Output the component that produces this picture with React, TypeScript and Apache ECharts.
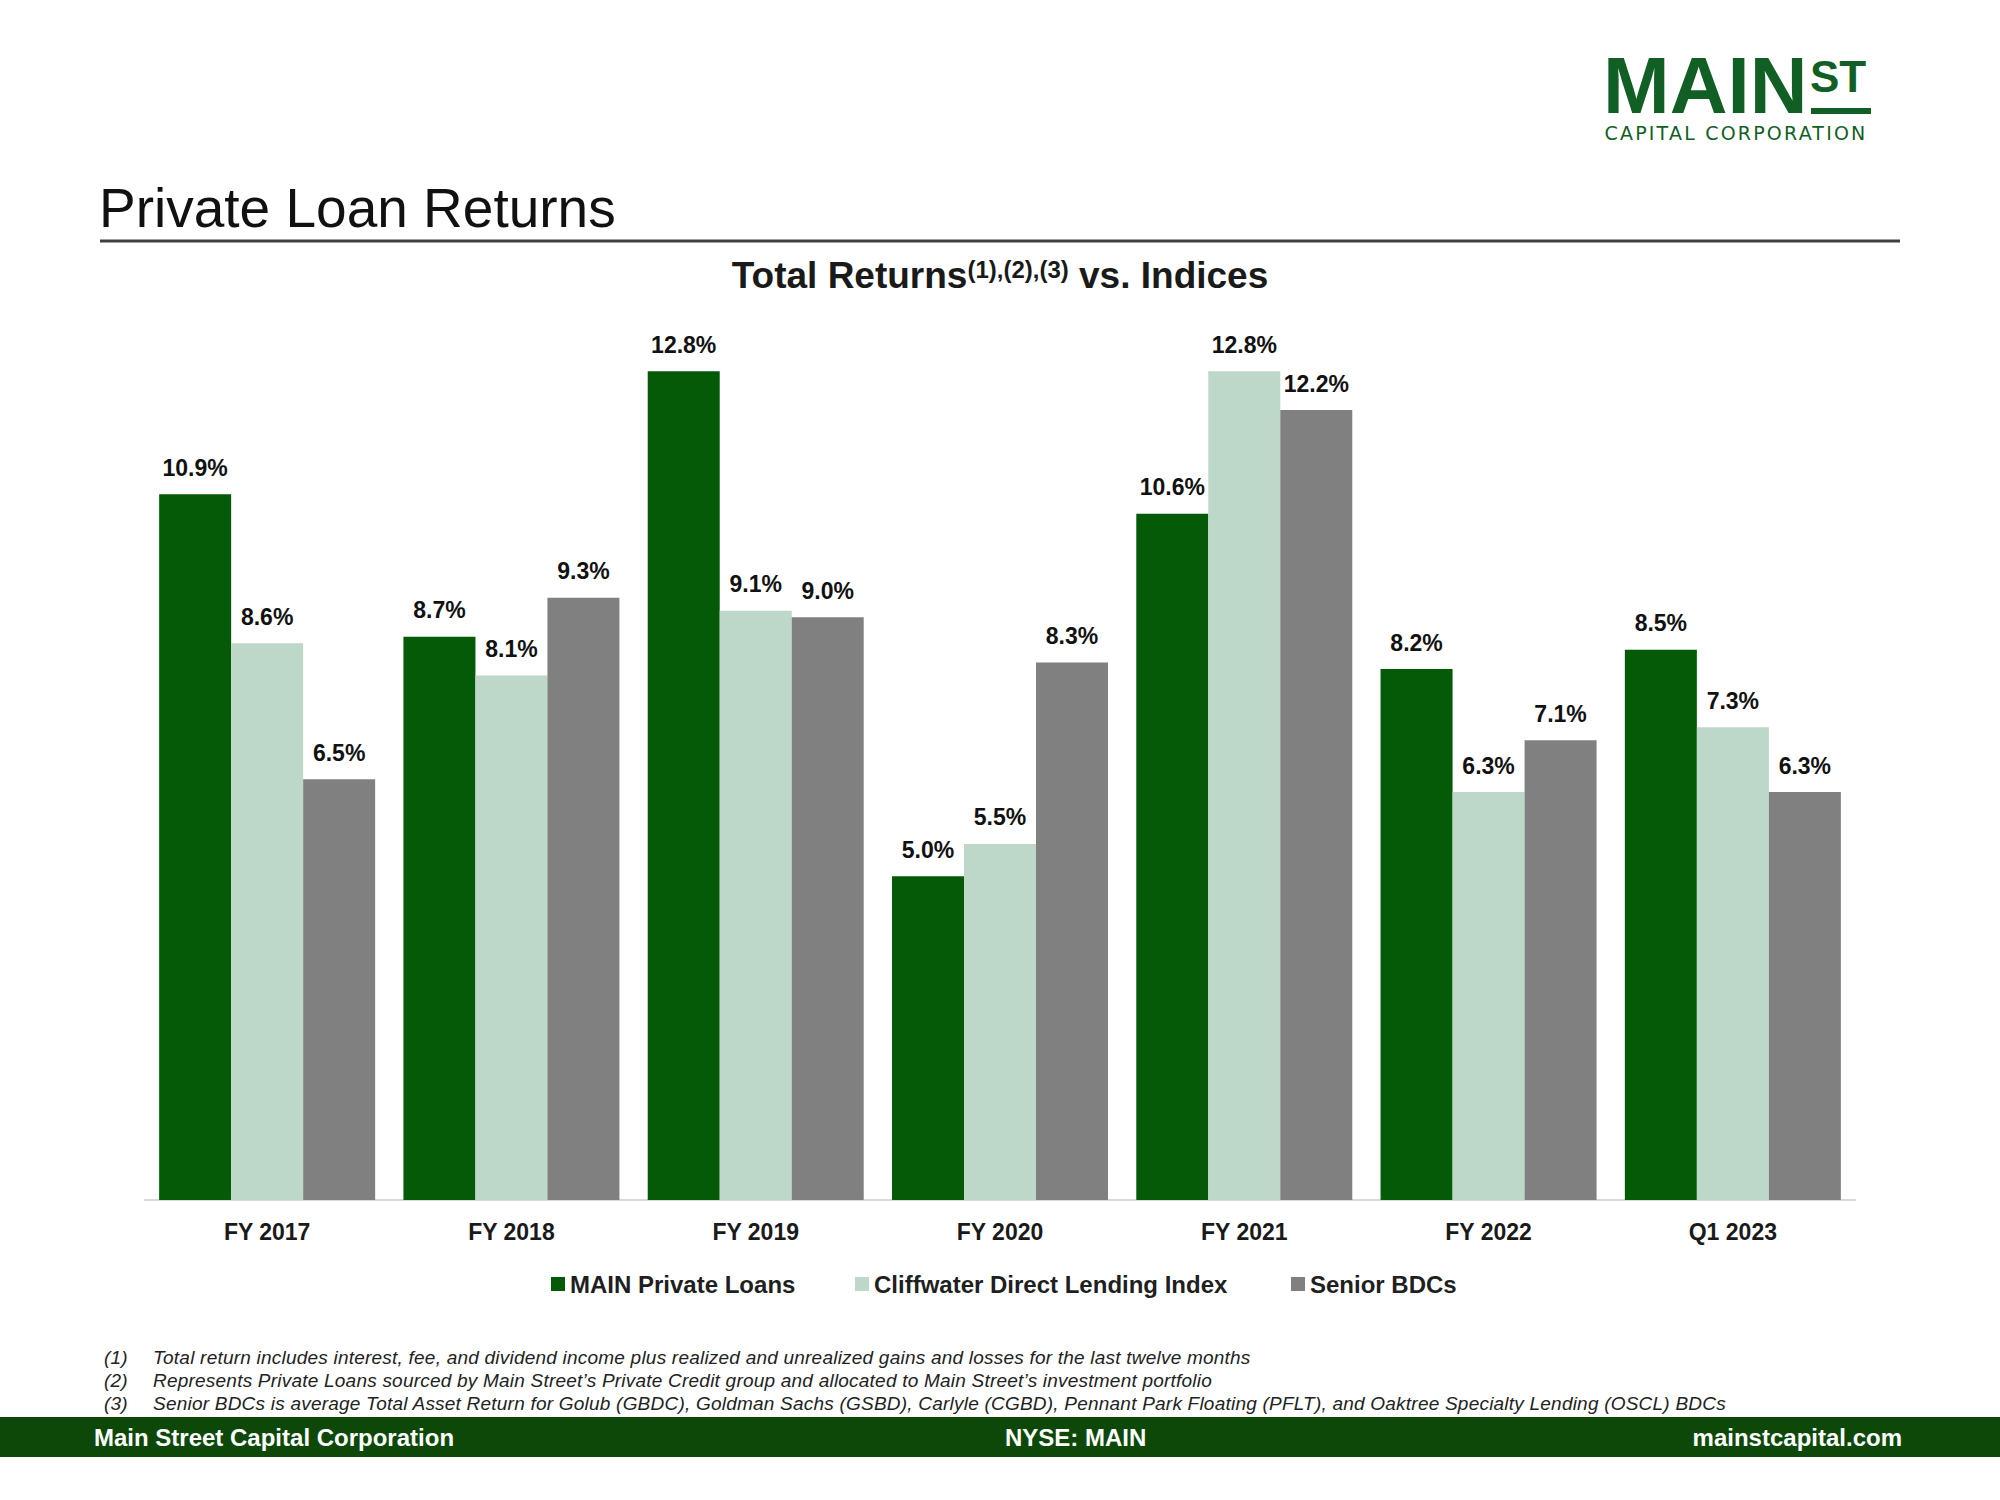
import React, { useEffect, useRef } from "react";
import * as echarts from "echarts";

const categories = ["FY 2017", "FY 2018", "FY 2019", "FY 2020", "FY 2021", "FY 2022", "Q1 2023"];
const mainPrivateLoans = [10.9, 8.7, 12.8, 5.0, 10.6, 8.2, 8.5];
const cliffwaterIndex = [8.6, 8.1, 9.1, 5.5, 12.8, 6.3, 7.3];
const seniorBDCs = [6.5, 9.3, 9.0, 8.3, 12.2, 7.1, 6.3];
const seriesNames = ["MAIN Private Loans", "Cliffwater Direct Lending Index", "Senior BDCs"];
const seriesColors = ["#045a07", "#bdd7c9", "#808080"];
const footnoteNums = ["(1)", "(2)", "(3)"];
const footnotes = [
  "Total return includes interest, fee, and dividend income plus realized and unrealized gains and losses for the last twelve months",
  "Represents Private Loans sourced by Main Street\u2019s Private Credit group and allocated to Main Street\u2019s investment portfolio",
  "Senior BDCs is average Total Asset Return for Golub (GBDC), Goldman Sachs (GSBD), Carlyle (CGBD), Pennant Park Floating (PFLT), and Oaktree Specialty Lending (OSCL) BDCs",
];

const FONT = "'Liberation Sans', Arial, Helvetica, sans-serif";

function txt(text: string, x: number, y: number, font: string, fill: string, align = "left", vAlign = "middle", lineHeight?: number) {
  const style: any = {
    text,
    font,
    fill,
    align,
    textAlign: align,
    verticalAlign: vAlign,
    textVerticalAlign: vAlign,
  };
  if (lineHeight) style.lineHeight = lineHeight;
  return { type: "text", x, y, silent: true, style };
}

export default function App() {
  const ref = useRef<HTMLDivElement>(null);

  useEffect(() => {
    if (!ref.current) return;
    const chart = echarts.init(ref.current, undefined, { renderer: "svg" });

    const data = [mainPrivateLoans, cliffwaterIndex, seniorBDCs];
    const legendX = [551, 855, 1291];

    const option: any = {
      animation: false,
      backgroundColor: "#ffffff",
      textStyle: { fontFamily: FONT },
      title: {
        text: "{a|Total Returns}{s|(1),(2),(3)}{a| vs. Indices}",
        left: "center",
        top: 257,
        padding: 0,
        textStyle: {
          rich: {
            a: { fontSize: 37, fontWeight: "bold", color: "#1a1a1a", fontFamily: FONT, verticalAlign: "bottom" },
            s: { fontSize: 24, fontWeight: "bold", color: "#1a1a1a", fontFamily: FONT, verticalAlign: "top" },
          },
        },
      },
      legend: seriesNames.map((name, i) => ({
        data: [name],
        left: legendX[i],
        top: 1272,
        padding: 0,
        itemWidth: 14,
        itemHeight: 14,
        icon: "rect",
        selectedMode: false,
        textStyle: { fontSize: 24, fontWeight: "bold", color: "#1f1f1f", fontFamily: FONT },
      })),
      grid: { left: 145, right: 145, top: 293.5, bottom: 300, containLabel: false },
      xAxis: {
        type: "category",
        data: categories,
        axisLine: { show: true, lineStyle: { color: "#d9d9d9", width: 2 } },
        axisTick: { show: false },
        axisLabel: { margin: 20, fontSize: 23, fontWeight: "bold", color: "#1a1a1a", fontFamily: FONT },
        splitLine: { show: false },
      },
      yAxis: {
        type: "value",
        min: 0,
        max: 14,
        show: false,
        splitLine: { show: false },
      },
      series: seriesNames.map((name, i) => ({
        name,
        type: "bar",
        data: data[i],
        barWidth: 72,
        barGap: "0%",
        itemStyle: { color: seriesColors[i] },
        label: {
          show: true,
          position: "top",
          distance: 15,
          fontSize: 23,
          fontWeight: "bold",
          color: "#111111",
          fontFamily: FONT,
          formatter: (p: any) => Number(p.value).toFixed(1) + "%",
        },
      })),
      graphic: [
        // logo
        txt("MAIN", 1603, 85, `bold 80px ${FONT}`, "#115f24", "left", "middle", 58),
        txt("ST", 1810, 76, `bold 44px ${FONT}`, "#115f24", "left", "middle", 34),
        { type: "rect", silent: true, shape: { x: 1811, y: 108, width: 60, height: 6 }, style: { fill: "#115f24" } },
        txt("CAPITAL CORPORATION", 1736, 133, `19px 'DejaVu Sans', ${FONT}`, "#115f24", "center", "middle", 16),
        // page title
        txt("Private Loan Returns", 99, 208, `55px ${FONT}`, "#111111"),
        { type: "rect", silent: true, shape: { x: 100, y: 239.5, width: 1800, height: 3 }, style: { fill: "#404040" } },
        // footnotes
        ...footnoteNums.map((n, i) => txt(n, 104, 1357 + i * 23, `italic 19px ${FONT}`, "#222222")),
        ...footnotes.map((f, i) => txt(f, 153, 1357 + i * 23, `italic 19px ${FONT}`, "#222222")),
        // footer band
        { type: "rect", silent: true, shape: { x: 0, y: 1417, width: 2000, height: 40 }, style: { fill: "#0d4809" } },
        txt("Main Street Capital Corporation", 94, 1437, `bold 24px ${FONT}`, "#ffffff"),
        txt("NYSE: MAIN", 1005, 1437, `bold 24px ${FONT}`, "#ffffff"),
        txt("mainstcapital.com", 1902, 1437, `bold 24px ${FONT}`, "#ffffff", "right"),
      ],
    };

    chart.setOption(option);
    return () => chart.dispose();
  }, []);

  return (
    <>
      <style>{`svg text[style*="DejaVu Sans"] { letter-spacing: 2.2px; } svg text[style*="italic"] { letter-spacing: 0.22px; }`}</style>
      <div
        ref={ref}
        style={{ position: "absolute", left: 0, top: 0, width: 2000, height: 1500, background: "#ffffff" }}
      />
    </>
  );
}
